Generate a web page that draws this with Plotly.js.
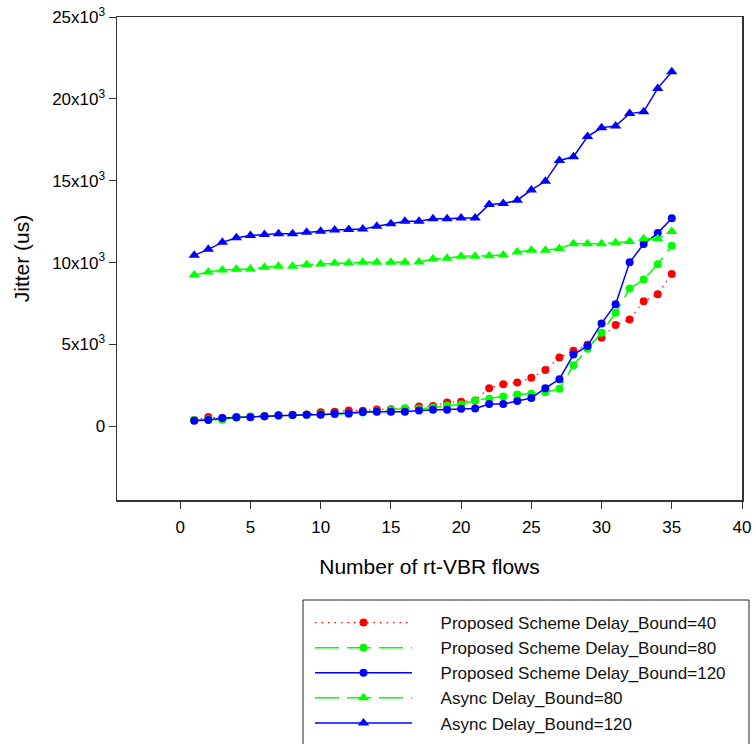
<!DOCTYPE html>
<html>
<head>
<meta charset="utf-8">
<script src="https://cdn.plot.ly/plotly-3.0.1.min.js"></script>
<style>
  html, body { margin: 0; padding: 0; background: #ffffff; }
  #chart { width: 756px; height: 744px; }
</style>
</head>
<body>
<div id="chart"></div>
<script>
// Number of rt-VBR flows
const flows = [1,2,3,4,5,6,7,8,9,10,11,12,13,14,15,16,17,18,19,20,21,22,23,24,25,26,27,28,29,30,31,32,33,34,35];

// Jitter (us) for each series
const proposed40 = [380,567,500,560,590,620,660,700,720,852,892,973,950,1034,1050,1080,1217,1237,1460,1500,1582,2332,2575,2677,2960,3447,4197,4623,4988,5414,6185,6530,7645,8070,9307];
const proposed80 = [380,420,400,540,600,620,650,690,700,730,740,770,850,900,1000,1100,1075,1135,1277,1338,1582,1683,1825,1947,1988,2088,2291,3730,4745,5718,6935,8415,8962,9895,11030];
const proposed120 = [345,385,507,547,547,608,669,690,710,710,770,790,872,892,892,892,973,1014,1014,1075,1095,1358,1358,1541,1724,2332,2880,4380,4907,6287,7460,10017,11130,11800,12713];
const async80 = [9246,9429,9550,9590,9611,9712,9773,9773,9875,9915,9955,9976,10017,10017,10017,10017,10037,10220,10260,10380,10380,10420,10463,10645,10747,10747,10868,11150,11150,11150,11210,11295,11455,11455,11900];
const async120 = [10444,10808,11235,11516,11660,11720,11760,11760,11860,11920,11985,12025,12045,12225,12370,12530,12530,12680,12680,12730,12730,13545,13605,13810,14440,14965,16240,16465,17700,18230,18350,19100,19220,20640,21655];

const seriesNames = [
  "Proposed Scheme Delay_Bound=40",
  "Proposed Scheme Delay_Bound=80",
  "Proposed Scheme Delay_Bound=120",
  "Async Delay_Bound=80",
  "Async Delay_Bound=120"
];

const yTickVals = [0, 5000, 10000, 15000, 20000, 25000];
const yTickText = ["0", "5x10<sup>3</sup>", "10x10<sup>3</sup>", "15x10<sup>3</sup>", "20x10<sup>3</sup>", "25x10<sup>3</sup>"];
const xTickVals = [0, 5, 10, 15, 20, 25, 30, 35, 40];

const RED = "#ff0000", GREEN = "#00ff00", BLUE = "#0000ff";
const PAD = "\u00a0\u00a0\u00a0\u00a0\u00a0";

const traces = [
  { x: flows, y: proposed40, name: PAD + seriesNames[0], mode: "lines+markers",
    line: { color: RED, width: 1.2, dash: "1.5px,5px" },
    marker: { symbol: "circle", size: 8, color: RED } },
  { x: flows, y: proposed80, name: PAD + seriesNames[1], mode: "lines+markers",
    line: { color: GREEN, width: 1.5, dash: "24px,8px" },
    marker: { symbol: "circle", size: 8, color: GREEN } },
  { x: flows, y: proposed120, name: PAD + seriesNames[2], mode: "lines+markers",
    line: { color: BLUE, width: 1.5 },
    marker: { symbol: "circle", size: 8, color: BLUE } },
  { x: flows, y: async80, name: PAD + seriesNames[3], mode: "lines+markers",
    line: { color: GREEN, width: 1.5, dash: "24px,8px" },
    marker: { symbol: "triangle-up", size: 10, color: GREEN } },
  { x: flows, y: async120, name: PAD + seriesNames[4], mode: "lines+markers",
    line: { color: BLUE, width: 1.5 },
    marker: { symbol: "triangle-up", size: 10, color: BLUE } }
];

const FONT = "Liberation Sans, Arial, sans-serif";

const layout = {
  width: 756, height: 744,
  margin: { l: 117, r: 14, t: 17, b: 244 },
  paper_bgcolor: "#ffffff", plot_bgcolor: "#ffffff",
  font: { family: FONT, color: "#000000", size: 16 },
  showlegend: true,
  xaxis: {
    range: [-4.5, 40],
    tickmode: "array", tickvals: xTickVals,
    ticks: "outside", ticklen: 7, tickwidth: 1, tickcolor: "#333333",
    ticklabelstandoff: 4,
    showline: true, linecolor: "#333333", linewidth: 1.5, mirror: true,
    showgrid: false, zeroline: false,
    tickfont: { family: FONT, size: 17, color: "#000" },
    title: { text: "Number of rt-VBR flows", font: { family: FONT, size: 21, color: "#000" }, standoff: 23 }
  },
  yaxis: {
    range: [-4500, 25000],
    tickmode: "array", tickvals: yTickVals, ticktext: yTickText,
    ticks: "outside", ticklen: 7, tickwidth: 1, tickcolor: "#333333",
    showline: true, linecolor: "#333333", linewidth: 1.5, mirror: true,
    showgrid: false, zeroline: false,
    tickfont: { family: FONT, size: 17, color: "#000" },
    title: { text: "Jitter (us)", font: { family: FONT, size: 21, color: "#000" }, standoff: 17 }
  },
  legend: {
    xref: "paper", yref: "container",
    x: (310 - 117) / 625, y: (744 - 605) / 744, xanchor: "left", yanchor: "top",
    bgcolor: "rgba(0,0,0,0)", borderwidth: 0,
    font: { family: FONT, size: 17, color: "#111" },
    itemwidth: 97, tracegroupgap: 0
  },
  shapes: [
    { type: "rect", xref: "paper", yref: "paper",
      x0: (303 - 117) / 625, x1: (749 - 117) / 625,
      y0: (500 - 600) / 483, y1: (500 - 760) / 483,
      line: { color: "#222222", width: 1 }, fillcolor: "rgba(0,0,0,0)" }
  ]
};

Plotly.newPlot("chart", traces, layout, { displayModeBar: false, staticPlot: true });
</script>
</body>
</html>
